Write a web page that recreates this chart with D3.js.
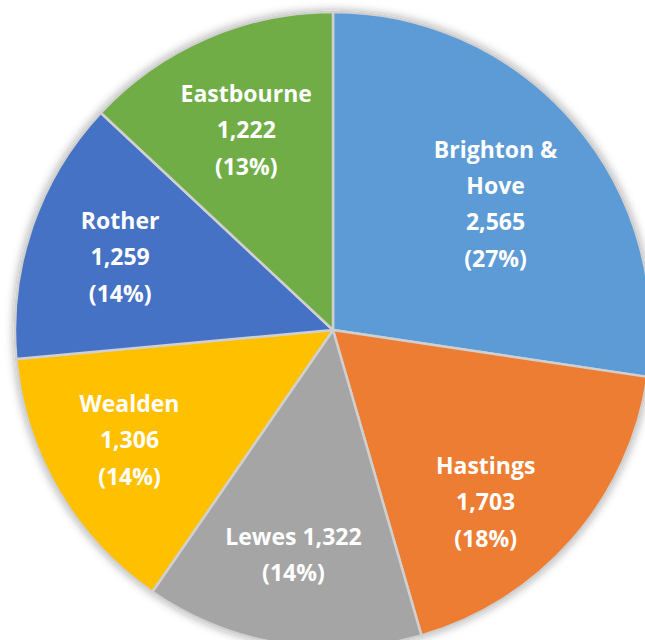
<!DOCTYPE html>
<html>
<head>
<meta charset="utf-8">
<script src="https://cdn.jsdelivr.net/npm/d3@7"></script>
<style>
  html, body { margin: 0; padding: 0; background: #fff; }
  #chart { width: 645px; height: 640px; overflow: hidden; }
  text { font-family: "Open Sans", Lato, sans-serif; font-weight: bold; fill: #fff; }
</style>
</head>
<body>
<div id="chart"></div>
<script>
//Datos
const areas = ['Brighton & Hove', 'Hastings', 'Lewes', 'Wealden', 'Rother', 'Eastbourne'];
const values = [2565, 1703, 1322, 1306, 1259, 1222];
const percentLabels = ['(27%)', '(18%)', '(14%)', '(14%)', '(14%)', '(13%)'];
const labelLines = [
    ['Brighton &', 'Hove', '2,565', '(27%)'],
    ['Hastings', '1,703', '(18%)'],
    ['Lewes 1,322', '(14%)'],
    ['Wealden', '1,306', '(14%)'],
    ['Rother', '1,259', '(14%)'],
    ['Eastbourne', '1,222', '(13%)']
];
const colors = ['#5B9BD5', '#ED7D31', '#A5A5A5', '#FFC000', '#4472C4', '#70AD47'];

let width = 645, height = 640;
let cx = 333, cy = 330, radius = 318;

let svg = d3.select('#chart')
    .append('svg')
        .attr('width', width)
        .attr('height', height);

//Sombra
let defs = svg.append('defs');
let filter = defs.append('filter')
    .attr('id', 'shadow')
    .attr('x', '-10%').attr('y', '-10%')
    .attr('width', '120%').attr('height', '120%');
filter.append('feDropShadow')
    .attr('dx', 0).attr('dy', 0)
    .attr('stdDeviation', 5)
    .attr('flood-color', '#000')
    .attr('flood-opacity', 0.35);

let g = svg.append('g')
    .attr('transform', 'translate(' + cx + ',' + cy + ')');

let pie = d3.pie().sort(null).value(function(d) { return d; });
let arcs = pie(values);

let arc = d3.arc().innerRadius(0).outerRadius(radius);

g.append('g')
    .attr('filter', 'url(#shadow)')
    .selectAll('path')
    .data(arcs)
    .enter()
    .append('path')
        .attr('d', arc)
        .attr('fill', function(d, i) { return colors[i]; })
        .attr('stroke', '#D0D0D0')
        .attr('stroke-width', 2.5)
        .attr('stroke-linejoin', 'round');

//Etiquetas (radio + ajuste fino como hace Excel)
let labelRadius = [208, 228, 228, 230, 225, 218];
let labelNudge = [[5, 10], [-19, 22], [-3, 0], [-5, -6], [0, 0], [0, 0]];
let lineHeight = 36.5;

g.selectAll('.label')
    .data(arcs)
    .enter()
    .append('text')
        .attr('class', 'label')
        .attr('text-anchor', 'middle')
        .attr('font-size', '23px')
        .attr('transform', function(d, i) {
            let a = (d.startAngle + d.endAngle) / 2;
            let x = Math.sin(a) * labelRadius[i] + labelNudge[i][0];
            let y = -Math.cos(a) * labelRadius[i] + labelNudge[i][1];
            return 'translate(' + x + ',' + y + ')';
        })
        .each(function(d, i) {
            let lines = labelLines[i];
            let t = d3.select(this);
            lines.forEach(function(l, j) {
                t.append('tspan')
                    .attr('x', 0)
                    .attr('y', (j - (lines.length - 1) / 2) * lineHeight)
                    .attr('dy', '0.35em')
                    .text(l);
            });
        });
</script>
</body>
</html>
